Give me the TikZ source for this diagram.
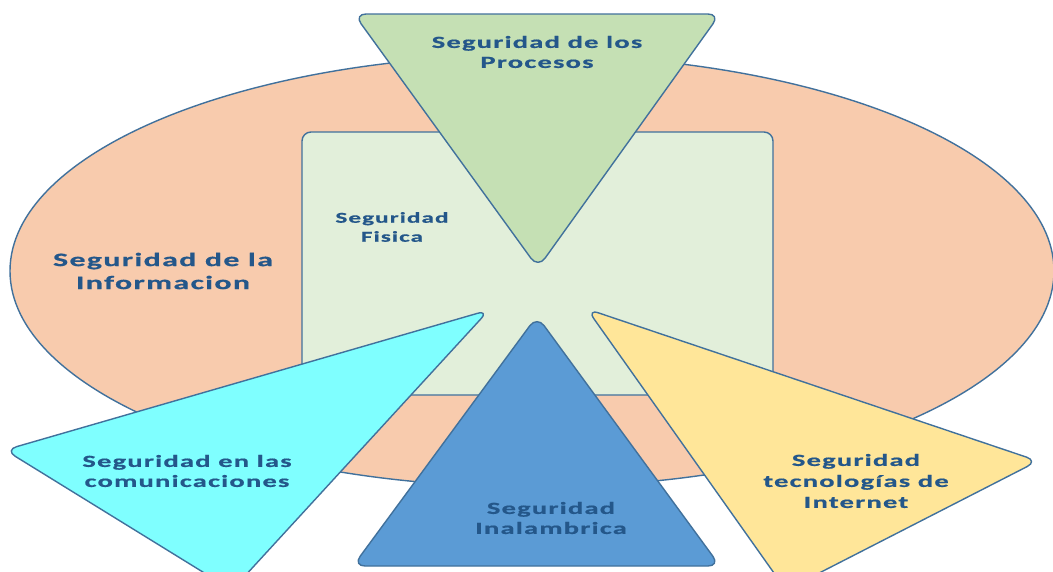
\documentclass[tikz,border=0pt]{standalone}
\usepackage{fontspec}
\newfontfamily\lblfont{Carlito}[FakeStretch=1.68,LetterSpace=7,FakeBold=0.6]
\definecolor{edge}{HTML}{41719C}
\definecolor{txt}{HTML}{24578A}
\definecolor{infofill}{HTML}{F8CBAD}
\definecolor{fisfill}{HTML}{E2EFDA}
\definecolor{procfill}{HTML}{C5E0B4}
\definecolor{inalfill}{HTML}{5B9BD5}
\definecolor{comfill}{HTML}{7FFFFF}
\definecolor{netfill}{HTML}{FFE699}
\begin{document}
\begin{tikzpicture}[x=1pt,y=-1pt,
  outl/.style={draw=edge,line width=1.4pt,line join=round},
  tri/.style={outl,rounded corners=12pt},
  lbl/.style 2 args={text=txt,align=center,inner sep=0pt,font=\lblfont\bfseries\fontsize{#1}{#2}\selectfont}]
  \clip (0,0) rectangle (1053,571);
  \fill[white] (0,0) rectangle (1053,571);
  % outer ellipse
  \draw[outl,fill=infofill] (532,271) ellipse [x radius=522, y radius=216];
  % inner rounded square
  \draw[outl,fill=fisfill,rounded corners=9pt] (302,132) rectangle (773,395);
  % triangles
  \coordinate (p1) at (354,14);  \coordinate (p2) at (720,14);  \coordinate (p3) at (538,268);
  \draw[tri,fill=procfill] (p1) -- (p2) -- (p3) -- cycle;
  \coordinate (c1) at (489,310); \coordinate (c2) at (5,450); \coordinate (c3) at (232,590);
  \draw[tri,fill=comfill] (c1) -- (c2) -- (c3) -- cycle;
  \coordinate (w1) at (537,316); \coordinate (w2) at (720,566); \coordinate (w3) at (353,566);
  \draw[tri,fill=inalfill] (w1) -- (w2) -- (w3) -- cycle;
  \coordinate (n1) at (587,309); \coordinate (n2) at (1038,461); \coordinate (n3) at (786,590);
  \draw[tri,fill=netfill] (n1) -- (n2) -- (n3) -- cycle;
  % labels
  \node[lbl={19}{23}] (info) at (163,271) {Seguridad de la\\Informacion};
  \node[lbl={15}{19}] (fis) at (392,227) {Seguridad\\Fisica};
  \node[lbl={17}{20}] (proc) at (537,52) {Seguridad de los\\Procesos};
  \node[lbl={17}{20}] (com) at (187,471) {Seguridad en las\\comunicaciones};
  \node[lbl={17}{20}] (inal) at (551,518) {Seguridad\\Inalambrica};
  \node[lbl={17}{21}] (net) at (856,481) {Seguridad\\tecnologías de\\Internet};
\end{tikzpicture}
\end{document}
